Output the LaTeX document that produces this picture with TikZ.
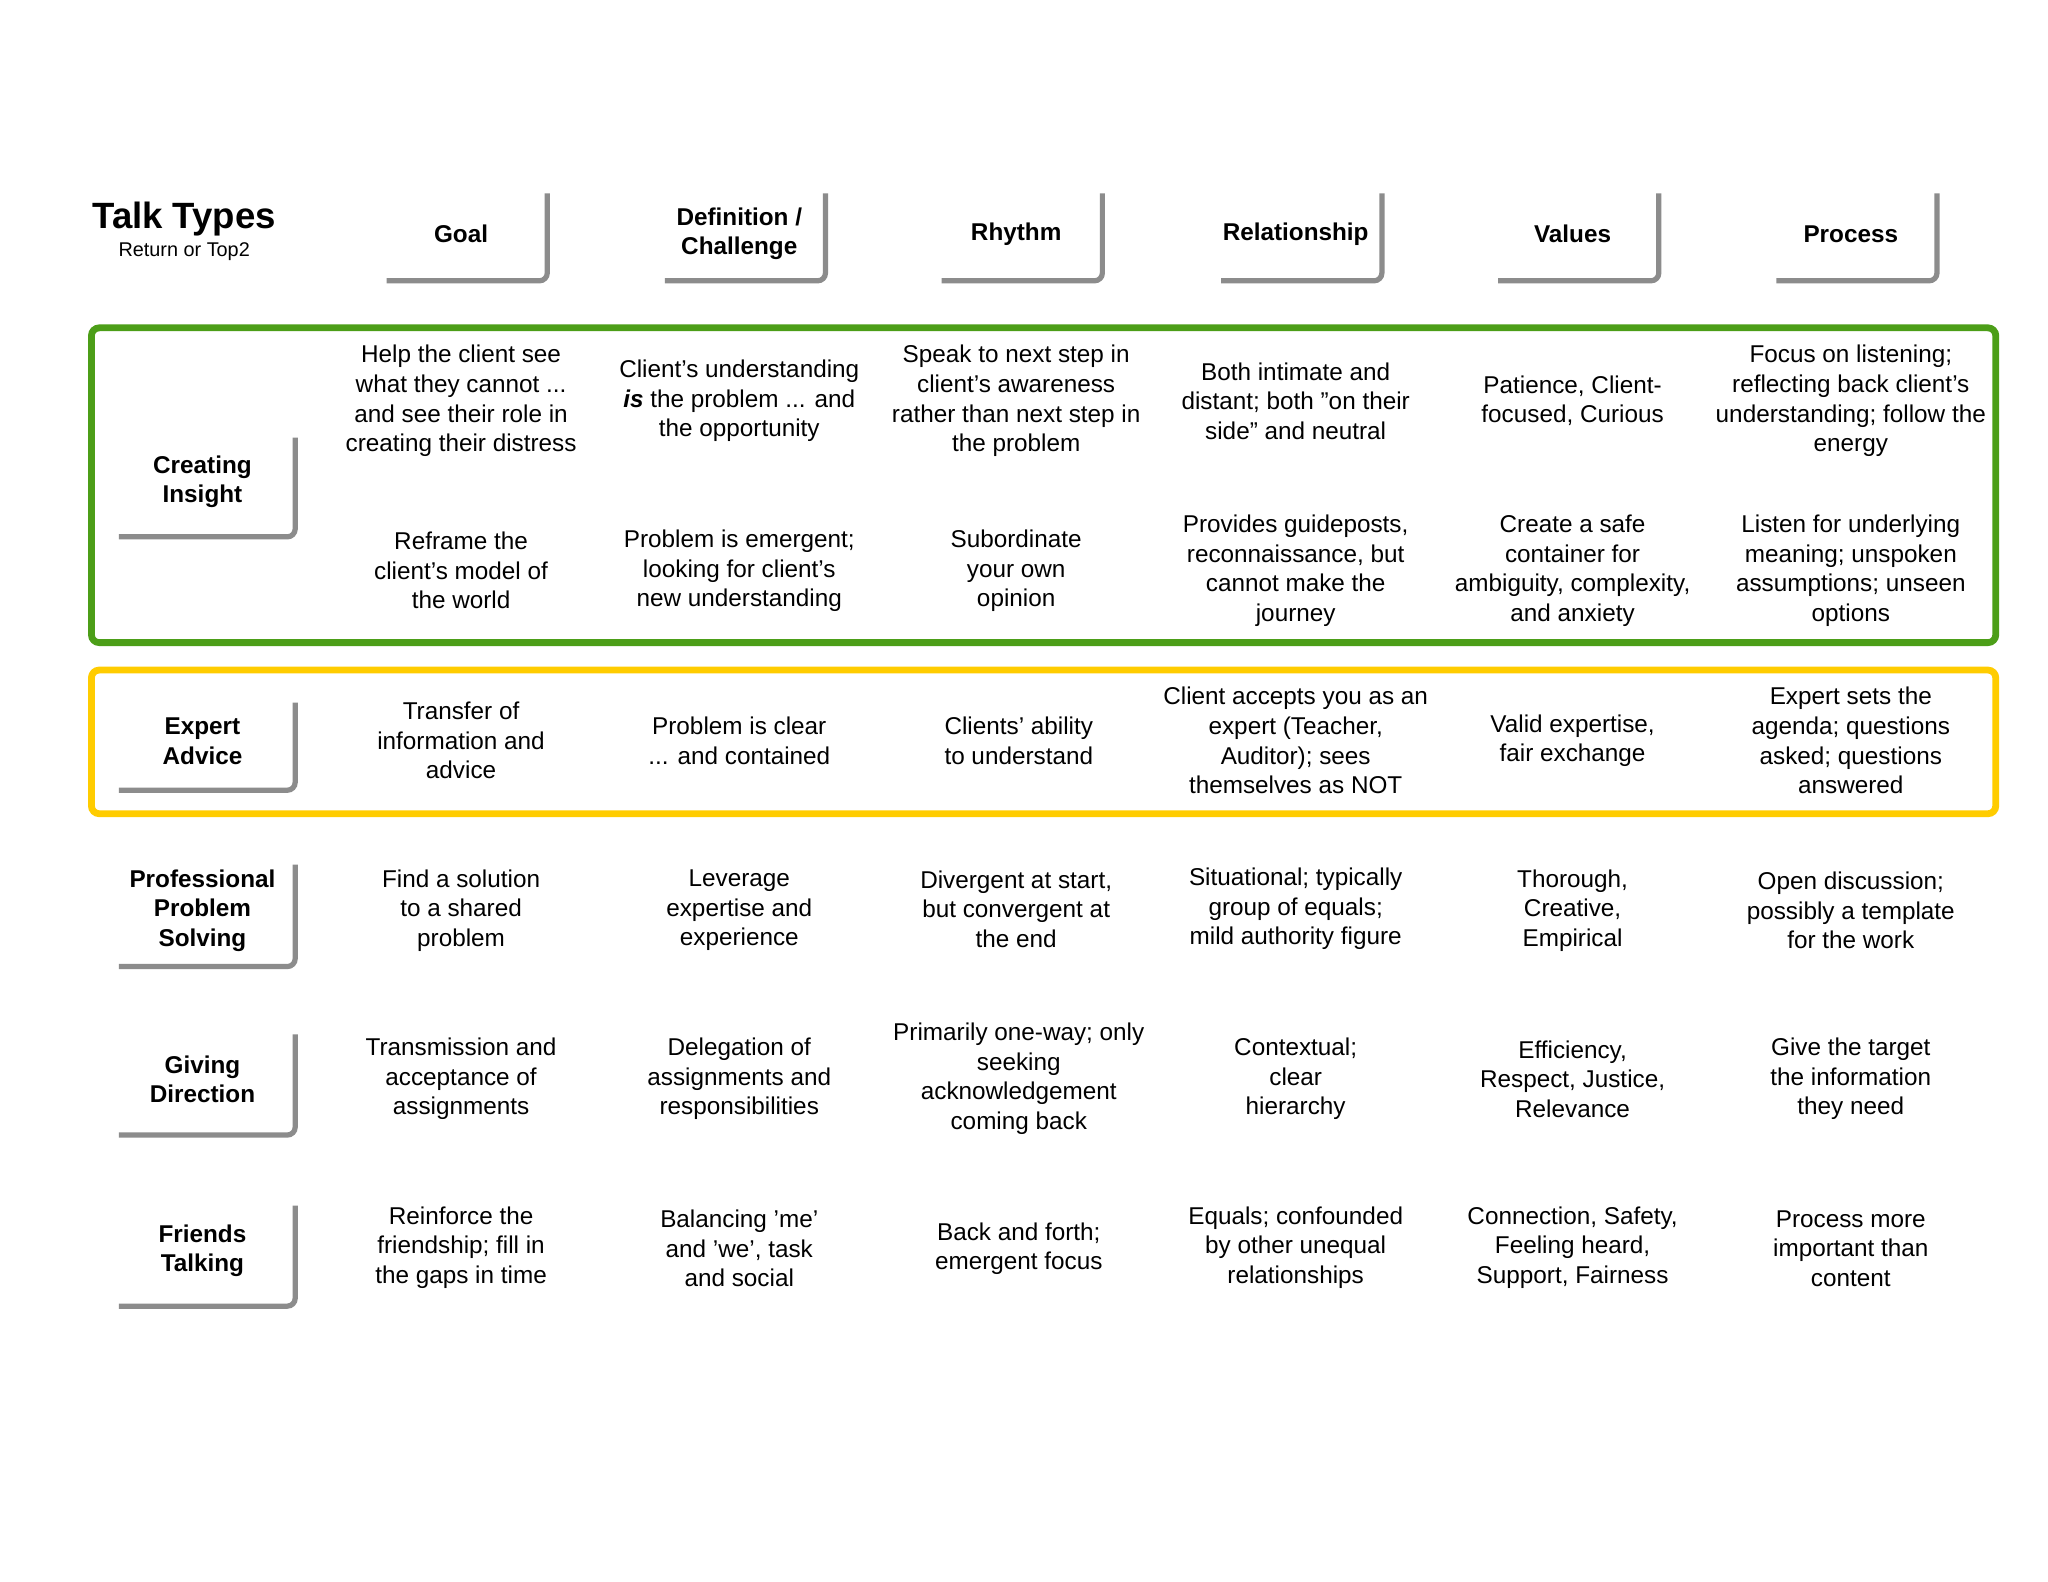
\documentclass[tikz,border=0pt]{standalone}
\usepackage{fontspec}
\setmainfont{Liberation Sans}
\begin{document}
\begin{tikzpicture}[x=0.5pt,y=-0.5pt,
  cell/.style={align=center,font=\fontsize{9.3}{11.3}\selectfont},
  head/.style={align=center,font=\bfseries\fontsize{9.3}{11.3}\selectfont},
  shad/.style={draw=black!45,line width=2pt,rounded corners=3pt}]
\useasboundingbox (0,0) rectangle (1568,1211);
\fill[white] (0,0) rectangle (1568,1211);
\node (title) at (141,168) {\bfseries\fontsize{14}{16}\selectfont Talk Types};
\node (sub) at (141,193) {\fontsize{7.6}{9}\selectfont Return or Top2};
% column headers
\foreach \cx/\t [count=\i] in {353/Goal,566/{Definition /\\Challenge},778/Rhythm,992/Relationship,1204/Values,1417/Process}{
  \draw[shad] (\cx-57,215) -- (\cx+66,215) -- (\cx+66,148);
  \node[head] (h\i) at (\cx,179) {\t};
}
% row headers
\foreach \yt/\yb/\t [count=\i] in {335/411/{Creating\\Insight},538/605/{Expert\\Advice},662/740/{Professional\\Problem\\Solving},792/869/{Giving\\Direction},923/1000/{Friends\\Talking}}{
  \draw[shad] (91,\yb) -- (226,\yb) -- (226,\yt);
  \node[head] (r\i) at (155,{(\yt+\yb)/2-4}) {\t};
}
\draw[draw={rgb,255:red,76;green,158;blue,24},line width=2.6pt,rounded corners=3pt] (70,251) rectangle (1528,492);
\draw[draw={rgb,255:red,255;green,204;blue,0},line width=2.6pt,rounded corners=3pt] (70,513) rectangle (1528,623);
% Creating insight row 1
\node[cell] (a1) at (353,307) {Help the client see\\what they cannot ...\\and see their role in\\creating their distress};
\node[cell] (a2) at (566,307) {Client's understanding\\\textbf{\itshape is} the problem ... and\\the opportunity};
\node[cell] (a3) at (778,307) {Speak to next step in\\client's awareness\\rather than next step in\\the problem};
\node[cell] (a4) at (992,307) {Both intimate and\\distant; both "on their\\side" and neutral};
\node[cell] (a5) at (1204,307) {Patience, Client-\\focused, Curious};
\node[cell] (a6) at (1417,307) {Focus on listening;\\reflecting back client's\\understanding; follow the\\energy};
% row 2
\node[cell] (b1) at (353,437) {Reframe the\\client's model of\\the world};
\node[cell] (b2) at (566,437) {Problem is emergent;\\looking for client's\\new understanding};
\node[cell] (b3) at (778,437) {Subordinate\\your own\\opinion};
\node[cell] (b4) at (992,437) {Provides guideposts,\\reconnaissance, but\\cannot make the\\journey};
\node[cell] (b5) at (1204,437) {Create a safe\\container for\\ambiguity, complexity,\\and anxiety};
\node[cell] (b6) at (1417,437) {Listen for underlying\\meaning; unspoken\\assumptions; unseen\\options};
% Expert
\node[cell] (c1) at (353,567) {Transfer of\\information and\\advice};
\node[cell] (c2) at (566,567) {Problem is clear\\... and contained};
\node[cell] (c3) at (780,567) {Clients' ability\\to understand};
\node[cell] (c4) at (992,567) {Client accepts you as an\\expert (Teacher,\\Auditor); sees\\themselves as NOT};
\node[cell] (c5) at (1204,567) {Valid expertise,\\fair exchange};
\node[cell] (c6) at (1417,567) {Expert sets the\\agenda; questions\\asked; questions\\answered};
% Professional
\node[cell] (d1) at (353,697) {Find a solution\\to a shared\\problem};
\node[cell] (d2) at (566,697) {Leverage\\expertise and\\experience};
\node[cell] (d3) at (778,696) {Divergent at start,\\but convergent at\\the end};
\node[cell] (d4) at (992,696) {Situational; typically\\group of equals;\\mild authority figure};
\node[cell] (d5) at (1204,697) {Thorough,\\Creative,\\Empirical};
\node[cell] (d6) at (1417,697) {Open discussion;\\possibly a template\\for the work};
% Giving
\node[cell] (e1) at (353,826) {Transmission and\\acceptance of\\assignments};
\node[cell] (e2) at (566,826) {Delegation of\\assignments and\\responsibilities};
\node[cell] (e3) at (780,826) {Primarily one-way; only\\seeking\\acknowledgement\\coming back};
\node[cell] (e4) at (992,826) {Contextual;\\clear\\hierarchy};
\node[cell] (e5) at (1204,826) {Efficiency,\\Respect, Justice,\\Relevance};
\node[cell] (e6) at (1417,826) {Give the target\\the information\\they need};
% Friends
\node[cell] (f1) at (353,955) {Reinforce the\\friendship; fill in\\the gaps in time};
\node[cell] (f2) at (566,956) {Balancing 'me'\\and 'we', task\\and social};
\node[cell] (f3) at (780,956) {Back and forth;\\emergent focus};
\node[cell] (f4) at (992,955) {Equals; confounded\\by other unequal\\relationships};
\node[cell] (f5) at (1204,955) {Connection, Safety,\\Feeling heard,\\Support, Fairness};
\node[cell] (f6) at (1417,956) {Process more\\important than\\content};
\end{tikzpicture}
\end{document}
